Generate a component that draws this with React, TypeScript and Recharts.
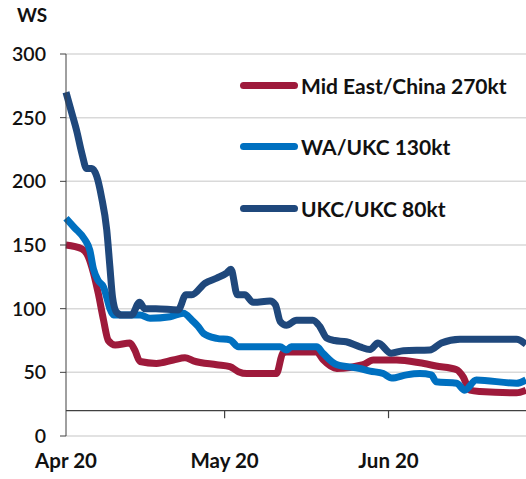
import React from 'react';
import {
  CartesianGrid,
  Line,
  LineChart,
  ReferenceLine,
  XAxis,
  YAxis,
} from 'recharts';

// days counted from 1 Apr 2020
const monthTicks = [0, 30, 61];
const monthLabels = ['Apr 20', 'May 20', 'Jun 20'];
const yTicks = [0, 50, 100, 150, 200, 250, 300];

const midEastDays = [0, 3, 4.2, 5.2, 6.1, 7.1, 8, 9.3, 12.1, 13, 14, 17.1, 20.3, 22.5, 24.1, 28.5, 31, 32.6, 34.2, 39.8, 41, 41.7, 47.4, 48.6, 51.2, 56.2, 58.1, 62.5, 66.9, 70, 73.9, 75.1, 76.4, 78.3, 85.2, 87];
const midEastValues = [150, 147, 141, 128, 112, 91, 75, 71.5, 73, 67.5, 58.5, 57, 59.7, 61.5, 59, 56, 54.5, 50.5, 49, 49, 65, 66, 66, 60, 53, 56, 59.7, 59.7, 57.5, 55, 52, 46.5, 36, 35, 34, 36];

const waDays = [0, 1.5, 3.6, 4.5, 5.2, 6.1, 7.1, 7.7, 8.3, 9, 14, 15.9, 19.7, 22.2, 23.8, 25, 26, 28.5, 31, 32.6, 40.5, 41.7, 42.6, 47.4, 48.6, 51.2, 55.6, 57.5, 60, 61.6, 64.4, 66.9, 69.1, 70, 73.9, 75.4, 77.6, 85.2, 87];
const waValues = [171, 164, 154, 146, 131, 122, 117, 109, 100, 95, 95, 92.5, 93.7, 96.4, 91, 86, 80.6, 76.7, 75.5, 70, 70, 67.5, 70, 70, 65, 56, 53, 51, 49, 45.5, 48, 49, 48, 42.6, 41.4, 36, 44, 41.4, 44];

const ukcDays = [0, 1, 2, 3, 3.9, 4.9, 5.8, 6.7, 7.7, 8.3, 8.8, 9.6, 10.5, 12.4, 13.9, 14.9, 17, 21.2, 22.7, 23.8, 26.3, 28.5, 30.4, 31.2, 32.4, 33.8, 35.4, 38.6, 39.6, 40.5, 41.7, 43.6, 46.7, 48, 49.3, 50.8, 53, 55.6, 57.5, 59, 61.5, 63.8, 68.8, 71, 74.5, 85.2, 87];
const ukcValues = [270, 255, 240, 222, 210, 210, 204, 188, 162, 133, 109, 97, 95, 95, 105, 100, 100, 99, 111, 111, 120, 124, 128, 131, 111, 111, 105, 106, 103, 90, 87, 91, 91, 86, 77, 75, 74, 70, 68, 73, 65, 67, 67.5, 73, 76, 76, 72];

const toRows = (days: number[], values: number[]) =>
  days.map((day, i) => ({ day, value: values[i] }));

const series = [
  { name: 'Mid East/China 270kt', color: '#9E1A3B', data: toRows(midEastDays, midEastValues) },
  { name: 'WA/UKC 130kt', color: '#0070C0', data: toRows(waDays, waValues) },
  { name: 'UKC/UKC 80kt', color: '#1F487C', data: toRows(ukcDays, ukcValues) },
];

const font = 'Lato, sans-serif';
const axisColor = '#404040';

export default function App() {
  return (
    <div style={{ position: 'absolute', left: 0, top: 0, width: 526, height: 479, fontFamily: font }}>
      <div style={{ position: 'absolute', left: 17, top: 3, fontSize: 19, fontWeight: 700, color: '#111' }}>WS</div>
      <LineChart width={526} height={479} margin={{ top: 54, right: 0, bottom: 0, left: 0 }}>
        <CartesianGrid vertical={false} stroke="#d9d9d9" strokeWidth={1.5} />
        <XAxis
          type="number"
          dataKey="day"
          domain={[0, 87]}
          ticks={monthTicks}
          tickFormatter={(d) => monthLabels[monthTicks.indexOf(d)]}
          axisLine={false}
          tickLine={false}
          height={43}
          tickMargin={11}
          tick={{ fill: '#111', fontSize: 20.5, fontWeight: 700, fontFamily: font }}
        />
        <YAxis
          domain={[0, 300]}
          ticks={yTicks}
          width={66}
          stroke={axisColor}
          tickSize={6}
          tickMargin={14}
          tick={{ fill: '#111', fontSize: 19.5, fontWeight: 600, fontFamily: font }}
        />
        <ReferenceLine y={20} stroke={axisColor} strokeWidth={1.2} />
        {monthTicks.slice(1).map((d) => (
          <ReferenceLine key={d} segment={[{ x: d, y: 20 }, { x: d, y: 14 }]} stroke={axisColor} strokeWidth={1.2} />
        ))}
        {series.map((s) => (
          <Line
            key={s.name}
            data={s.data}
            dataKey="value"
            name={s.name}
            type="monotone"
            stroke={s.color}
            strokeWidth={7}
            strokeLinejoin="round"
            dot={false}
            activeDot={false}
            isAnimationActive={false}
          />
        ))}
      </LineChart>
      <div style={{ position: 'absolute', left: 240, top: 71 }}>
        {series.map((s) => (
          <div key={s.name} style={{ display: 'flex', alignItems: 'center', height: 28, marginBottom: 33.5 }}>
            <div style={{ width: 58, height: 7, borderRadius: 4, background: s.color }} />
            <span style={{ marginLeft: 3, fontSize: 21, fontWeight: 700, color: '#111', whiteSpace: 'nowrap' }}>{s.name}</span>
          </div>
        ))}
      </div>
    </div>
  );
}
